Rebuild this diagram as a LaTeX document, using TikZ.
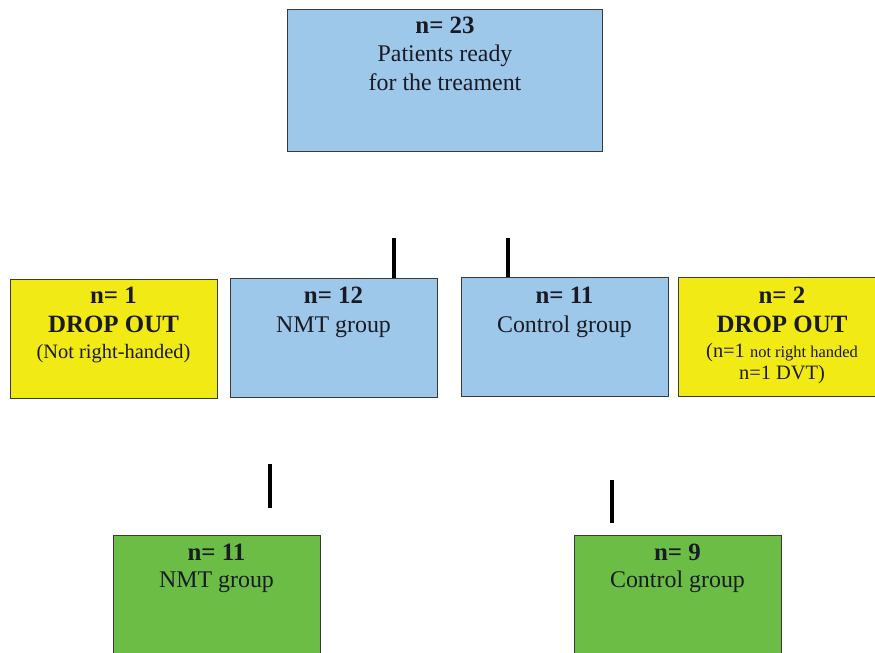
\documentclass[tikz,border=0pt]{standalone}
\usepackage{fontspec}
\setmainfont{Liberation Serif}
\definecolor{boxblue}{HTML}{9DC8EA}
\definecolor{boxyellow}{HTML}{F2EA14}
\definecolor{boxgreen}{HTML}{6BBD45}
\definecolor{edgegray}{HTML}{3A3A3A}
\definecolor{txt}{HTML}{1A1A24}
\tikzset{
  stagebox/.style={draw=edgegray, line width=1.1pt, inner sep=0pt, anchor=north west},
  bluebox/.style={stagebox, fill=boxblue},
  yellowbox/.style={stagebox, fill=boxyellow},
  greenbox/.style={stagebox, fill=boxgreen},
  tb/.style={anchor=base, inner sep=0pt, text=txt, font=\fontsize{25}{28}\selectfont\bfseries},
  tn/.style={anchor=base, inner sep=0pt, text=txt, font=\fontsize{24}{28}\selectfont},
  ts/.style={anchor=base, inner sep=0pt, text=txt, font=\fontsize{20.5}{24}\selectfont},
  bar/.style={line width=4.5pt, black}
}
\begin{document}
\begin{tikzpicture}[x=1bp,y=-1bp]
\useasboundingbox (0,0) rectangle (875,653);
% boxes
\node[bluebox, minimum width=315bp, minimum height=142bp] (top) at (287,9) {};
\node[yellowbox, minimum width=207bp, minimum height=119bp] (dropl) at (10,279) {};
\node[bluebox, minimum width=207bp, minimum height=119bp] (nmt) at (230,278) {};
\node[bluebox, minimum width=207bp, minimum height=119bp] (ctl) at (461,277) {};
\node[yellowbox, minimum width=210bp, minimum height=119bp] (dropr) at (678,277) {};
\node[greenbox, minimum width=207bp, minimum height=130bp] (nmtf) at (113,535) {};
\node[greenbox, minimum width=207bp, minimum height=130bp] (ctlf) at (574,535) {};
% texts
\node[tb] (t1) at (445,34) {n= 23};
\node[tn] (t2) at (445,62) {Patients ready};
\node[tn] (t3) at (445,91) {for the treament};
\node[tb] (dl1) at (113.5,303) {n= 1};
\node[tb] (dl2) at (113.5,332) {DROP OUT};
\node[ts] (dl3) at (113.5,358) {(Not right-handed)};
\node[tb] (n1) at (333.5,303) {n= 12};
\node[tn] (n2) at (333.5,332) {NMT group};
\node[tb] (c1) at (564.5,303) {n= 11};
\node[tn] (c2) at (564.5,332) {Control group};
\node[tb] (dr1) at (782,303) {n= 2};
\node[tb] (dr2) at (782,332) {DROP OUT};
\node[ts] (dr3) at (782,357) {(n=1 {\fontsize{16.5}{20}\selectfont not right handed}};
\node[ts] (dr4) at (782,379) {n=1 DVT)};
\node[tb] (f1) at (216.5,560) {n= 11};
\node[tn] (f2) at (216.5,587) {NMT group};
\node[tb] (g1) at (677.5,560) {n= 9};
\node[tn] (g2) at (677.5,587) {Control group};
% connector stubs
\coordinate (s1) at (394,238);
\coordinate (s2) at (508,238);
\coordinate (s3a) at (270,464);
\coordinate (s3b) at (270,508);
\coordinate (s4a) at (612,480);
\coordinate (s4b) at (612,523);
\draw[bar] (s1) -- (s1 |- nmt.north);
\draw[bar] (s2) -- (s2 |- ctl.north);
\draw[bar] (s3a) -- (s3b);
\draw[bar] (s4a) -- (s4b);
\end{tikzpicture}
\end{document}
